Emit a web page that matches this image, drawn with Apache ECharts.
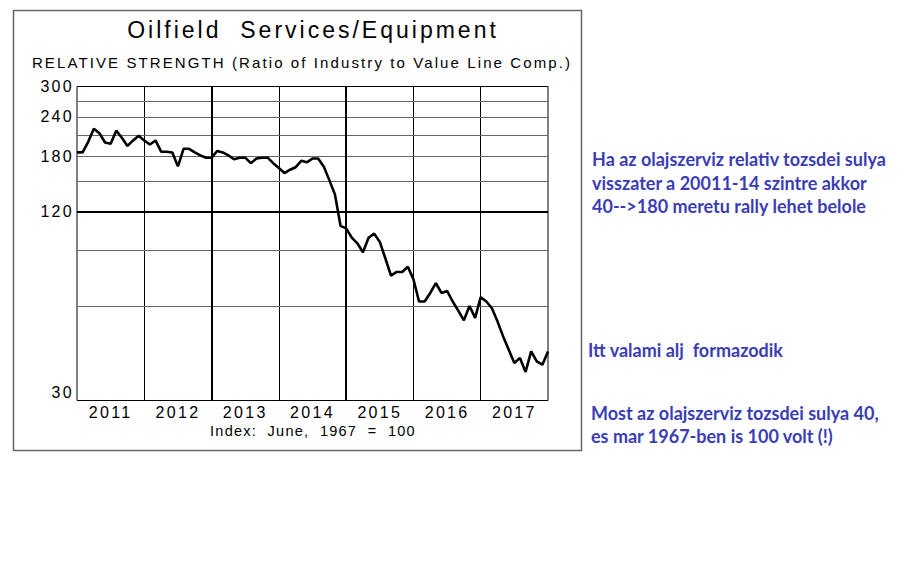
<!DOCTYPE html>
<html><head><meta charset="utf-8">
<script src="https://cdn.jsdelivr.net/npm/echarts@6/dist/echarts.min.js"></script>
<style>
html,body{margin:0;padding:0;background:#fff}
#c{width:919px;height:582px}
#c text{letter-spacing:2.3px}
#c text[style*="23px"]{letter-spacing:3px}
#c text[style*="15px"]{letter-spacing:2.1px}
#c text[style*="14.5px"]{letter-spacing:1.25px}
#c text[style*="Lato"]{letter-spacing:0}
</style>
</head><body><div id="c"></div>
<script>
// Year labels (one per segment) and the monthly categories (Jan 2011 .. Jan 2018)
const years = ['2011', '2012', '2013', '2014', '2015', '2016', '2017'];
const months = [];
years.concat(['2018']).forEach(function (y) {
  for (let m = 1; m <= 12; m++) {
    if (y === '2018' && m > 1) break;
    months.push(y + '-' + (m < 10 ? '0' + m : m));
  }
});
// Relative strength (ratio of industry to Value Line Comp.), monthly
const relStrength = [
  185, 185, 200, 220, 213, 199, 197, 217, 206, 194, 202, 209,
  202, 196, 202, 186, 186, 185, 167, 190, 190, 185, 181, 178,
  178, 187, 185, 181, 176, 178, 178, 171, 177, 178, 178, 171,
  165, 159, 163, 166, 174, 172, 177, 177, 167, 151, 136, 108,
  106, 99, 95, 89, 99, 102, 96, 85, 75, 77, 77, 80,
  73, 62, 62, 66, 71, 66, 67, 62, 58, 54, 60, 55,
  64, 62, 59, 53.5, 48, 43.5, 39.5, 41, 37, 43, 40, 39,
  43
];
const yTickLabels = [30, 120, 180, 240, 300];
const yGridValues = [60, 90, 150, 180, 210, 240, 270];
const yThickValues = [120];
const thickMonthIdx = [24, 48];

const chart = echarts.init(document.getElementById('c'), null, { renderer: 'svg' });
const font = '"Liberation Sans", Arial, sans-serif';
const noteFont = 'Lato, "Open Sans", sans-serif';
const noteColor = '#3b3db5';

const gridMarks = [];
yGridValues.forEach(function (v) {
  gridMarks.push({ yAxis: v, lineStyle: { color: '#666', width: 1, type: 'solid' } });
});
yThickValues.forEach(function (v) {
  gridMarks.push({ yAxis: v, lineStyle: { color: '#000', width: 2, type: 'solid' } });
});
thickMonthIdx.forEach(function (i) {
  gridMarks.push({ xAxis: months[i], lineStyle: { color: '#000', width: 2, type: 'solid' } });
});

chart.setOption({
  backgroundColor: '#fff',
  animation: false,
  grid: {
    show: true, borderColor: '#000', borderWidth: 1,
    left: 77, top: 86.5, width: 471, height: 314, containLabel: false
  },
  xAxis: [{
    type: 'category', data: months, boundaryGap: false,
    axisLine: { show: false }, axisTick: { show: false }, axisLabel: { show: false },
    splitLine: {
      show: true,
      interval: function (idx) { return idx % 12 === 0 && idx > 0 && idx < months.length - 1; },
      lineStyle: { color: '#000', width: 1 }
    }
  }, {
    type: 'category', data: years, boundaryGap: true, position: 'bottom',
    axisLine: { show: false }, axisTick: { show: false }, splitLine: { show: false },
    axisLabel: { color: '#000', fontSize: 16, fontFamily: font, margin: 4 }
  }],
  yAxis: {
    type: 'log', logBase: 10, min: 30, max: 300,
    axisLine: { show: false }, axisTick: { show: false }, splitLine: { show: false },
    axisLabel: {
      customValues: yTickLabels, color: '#000', fontSize: 16, fontFamily: font, margin: 3,
      formatter: function (v) { return v === 30 ? '{lo|' + v + '}' : '{n|' + v + '}'; },
      rich: {
        n: { fontSize: 16, fontFamily: font, color: '#000' },
        lo: { fontSize: 16, fontFamily: font, color: '#000', padding: [0, 0, 16, 0] }
      }
    }
  },
  series: [{
    type: 'line', data: [], z: 1, silent: true,
    markLine: { silent: true, symbol: 'none', label: { show: false }, animation: false, data: gridMarks }
  }, {
    type: 'line', data: relStrength, xAxisIndex: 0, z: 5,
    symbol: 'none', showSymbol: false,
    lineStyle: { color: '#000', width: 2.6 }
  }],
  graphic: [
    { type: 'rect', shape: { x: 13.5, y: 10.5, width: 568, height: 440 }, style: { fill: 'none', stroke: '#666', lineWidth: 1.5 }, z: -1 },
    { type: 'text', x: 313, y: 30, style: { text: 'Oilfield  Services/Equipment', font: '23px ' + font, fill: '#000', textAlign: 'center', textVerticalAlign: 'middle' } },
    { type: 'text', x: 302, y: 62, style: { text: 'RELATIVE STRENGTH (Ratio of Industry to Value Line Comp.)', font: '15px ' + font, fill: '#000', textAlign: 'center', textVerticalAlign: 'middle' } },
    { type: 'text', x: 313, y: 431, style: { text: 'Index:  June,  1967  =  100', font: '14.5px ' + font, fill: '#000', textAlign: 'center', textVerticalAlign: 'middle' } },
    { type: 'text', x: 592, y: 159, style: { text: 'Ha az olajszerviz relativ tozsdei sulya', font: 'bold 18px ' + noteFont, fill: noteColor, textVerticalAlign: 'middle' } },
    { type: 'text', x: 592, y: 183, style: { text: 'visszater a 20011-14 szintre akkor', font: 'bold 18px ' + noteFont, fill: noteColor, textVerticalAlign: 'middle' } },
    { type: 'text', x: 592, y: 206, style: { text: '40-->180 meretu rally lehet belole', font: 'bold 18px ' + noteFont, fill: noteColor, textVerticalAlign: 'middle' } },
    { type: 'text', x: 588, y: 350, style: { text: 'Itt valami alj  formazodik', font: 'bold 18px ' + noteFont, fill: noteColor, textVerticalAlign: 'middle' } },
    { type: 'text', x: 591, y: 413, style: { text: 'Most az olajszerviz tozsdei sulya 40,', font: 'bold 18px ' + noteFont, fill: noteColor, textVerticalAlign: 'middle' } },
    { type: 'text', x: 591, y: 436, style: { text: 'es mar 1967-ben is 100 volt (!)', font: 'bold 18px ' + noteFont, fill: noteColor, textVerticalAlign: 'middle' } }
  ]
});
</script>
</body></html>
